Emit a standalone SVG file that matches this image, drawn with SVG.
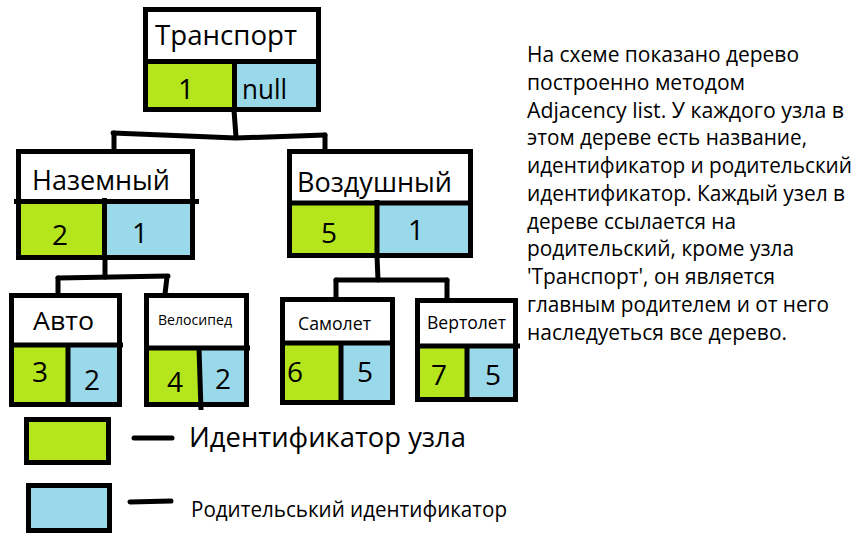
<svg xmlns="http://www.w3.org/2000/svg" width="864" height="543" viewBox="0 0 864 543">
<style>
.bg{fill:#fff}
.w{fill:#fff}
.g{fill:#b5e61d}
.b{fill:#99d9ea}
.k{fill:none;stroke:#000;stroke-width:5;stroke-linejoin:miter}
.c{fill:none;stroke:#000;stroke-width:5;stroke-linecap:round;stroke-linejoin:round}
text{font-family:"Open Sans","Noto Sans","DejaVu Sans",sans-serif;fill:#000}
.n28{font-size:28px}
.p{font-size:22px}
</style>
<rect class="bg" x="0" y="0" width="864" height="543"/>

<g id="connectors">
  <path class="c" d="M234 110 L236 137"/>
  <path class="c" d="M113 133 L236 138 L325 135"/>
  <path class="c" d="M114 133 L114 149"/>
  <path class="c" d="M325 135 L325 151"/>
  <path class="c" d="M105 258 L105 277"/>
  <path class="c" d="M58 278 L168 276"/>
  <path class="c" d="M58 278 L58 294"/>
  <path class="c" d="M167 277 L165 294"/>
  <path class="c" d="M377 256 L378 280"/>
  <path class="c" d="M336 280 L447 280"/>
  <path class="c" d="M336 280 L336 298"/>
  <path class="c" d="M447 280 L447 299"/>
</g>

<g id="node-transport">
  <rect class="w" x="145.5" y="9.5" width="173" height="52"/>
  <rect class="g" x="145.5" y="61.5" width="89" height="48"/>
  <rect class="b" x="234.5" y="61.5" width="84" height="48"/>
  <rect class="k" x="145.5" y="9.5" width="173" height="100"/>
  <path class="k" d="M143 61.5 H321 M234.5 61.5 V110"/>
  <text class="n28" x="155" y="45" textLength="142" lengthAdjust="spacingAndGlyphs">Транспорт</text>
  <text class="n28" x="178" y="99">1</text>
  <text class="n28" x="242" y="99" textLength="45" lengthAdjust="spacingAndGlyphs">null</text>
</g>

<g id="node-nazemny">
  <rect class="w" x="18.5" y="151.5" width="174" height="50"/>
  <rect class="g" x="18.5" y="201.5" width="86" height="56"/>
  <rect class="b" x="104.5" y="201.5" width="88" height="56"/>
  <rect class="k" x="18.5" y="151.5" width="174" height="106"/>
  <path class="k" d="M14 201.5 H199 M104.5 198 V258"/>
  <text class="n28" x="32" y="190" textLength="138" lengthAdjust="spacingAndGlyphs">Наземный</text>
  <text class="n28" x="52" y="245">2</text>
  <text class="n28" x="132" y="243">1</text>
</g>

<g id="node-vozdushny">
  <rect class="w" x="289.5" y="151.5" width="181" height="51.5"/>
  <rect class="g" x="289.5" y="203" width="87.5" height="52.5"/>
  <rect class="b" x="377" y="203" width="93.5" height="52.5"/>
  <rect class="k" x="289.5" y="151.5" width="181" height="104"/>
  <path class="k" d="M287 203 H473 M377 200 V258"/>
  <text class="n28" x="297" y="192" textLength="155" lengthAdjust="spacingAndGlyphs">Воздушный</text>
  <text class="n28" x="321" y="243">5</text>
  <text class="n28" x="408" y="240">1</text>
</g>

<g id="node-avto">
  <rect class="w" x="11.5" y="295.5" width="108" height="49.5"/>
  <rect class="g" x="11.5" y="345" width="56.5" height="59.5"/>
  <rect class="b" x="68" y="345" width="51.5" height="59.5"/>
  <rect class="k" x="11.5" y="295.5" width="108" height="109"/>
  <path class="k" d="M11.5 345 H123 M68 345 V405"/>
  <text x="33" y="330" style="font-size:26px" textLength="61" lengthAdjust="spacingAndGlyphs">Авто</text>
  <text class="n28" x="32" y="382">3</text>
  <text class="n28" x="84" y="390">2</text>
</g>

<g id="node-velosiped">
  <rect class="w" x="146.5" y="295.5" width="100" height="52.5"/>
  <rect class="g" x="146.5" y="348" width="53.5" height="56.5"/>
  <rect class="b" x="200" y="348" width="46.5" height="56.5"/>
  <rect class="k" x="146.5" y="295.5" width="100" height="109"/>
  <path class="k" d="M146.5 348 H250 M199 348 L201 410"/>
  <text x="158" y="325" style="font-size:15px" textLength="74" lengthAdjust="spacingAndGlyphs">Велосипед</text>
  <text class="n28" x="167" y="392">4</text>
  <text class="n28" x="215" y="389">2</text>
</g>

<g id="node-samolet">
  <rect class="w" x="282.5" y="299.5" width="110" height="43.5"/>
  <rect class="g" x="282.5" y="343" width="58.5" height="59.5"/>
  <rect class="b" x="341" y="343" width="51.5" height="59.5"/>
  <rect class="k" x="282.5" y="299.5" width="110" height="103"/>
  <path class="k" d="M282.5 343 H392.5 M341 343 V402.5"/>
  <text x="298" y="330" style="font-size:19px" textLength="73" lengthAdjust="spacingAndGlyphs">Самолет</text>
  <text class="n28" x="287" y="382">6</text>
  <text class="n28" x="357" y="382">5</text>
</g>

<g id="node-vertolet">
  <rect class="w" x="417.5" y="300.5" width="98" height="45.5"/>
  <rect class="g" x="417.5" y="346" width="49.5" height="53.5"/>
  <rect class="b" x="467" y="346" width="48.5" height="53.5"/>
  <rect class="k" x="417.5" y="300.5" width="98" height="99"/>
  <path class="k" d="M417.5 346 H520 M467 346 V399.5"/>
  <text x="427" y="329" style="font-size:19px" textLength="79" lengthAdjust="spacingAndGlyphs">Вертолет</text>
  <text class="n28" x="431" y="385">7</text>
  <text class="n28" x="485" y="385">5</text>
</g>

<g id="legend">
  <rect class="g" x="26.5" y="419.5" width="82" height="43"/>
  <rect class="k" x="26.5" y="419.5" width="82" height="43"/>
  <rect class="b" x="28.5" y="485.5" width="81" height="45"/>
  <rect class="k" x="28.5" y="485.5" width="81" height="45"/>
  <path class="c" d="M134 438 L172 438"/>
  <path class="c" d="M130 502 L171 501"/>
  <text class="n28" x="189" y="447" textLength="277" lengthAdjust="spacingAndGlyphs">Идентификатор узла</text>
  <text x="191" y="517" style="font-size:21px" textLength="316" lengthAdjust="spacingAndGlyphs">Родительський идентификатор</text>
</g>

<g id="description" class="p">
  <text x="527" y="62" textLength="272" lengthAdjust="spacingAndGlyphs">На схеме показано дерево</text>
  <text x="527" y="90" textLength="218" lengthAdjust="spacingAndGlyphs">построенно методом</text>
  <text x="527" y="117.5" textLength="317" lengthAdjust="spacingAndGlyphs">Adjacency list. У каждого узла в</text>
  <text x="527" y="145" textLength="280" lengthAdjust="spacingAndGlyphs">этом дереве есть название,</text>
  <text x="527" y="173" textLength="325" lengthAdjust="spacingAndGlyphs">идентификатор и родительский</text>
  <text x="527" y="201" textLength="318" lengthAdjust="spacingAndGlyphs">идентификатор. Каждый узел в</text>
  <text x="527" y="228.5" textLength="209" lengthAdjust="spacingAndGlyphs">дереве ссылается на</text>
  <text x="527" y="256" textLength="267" lengthAdjust="spacingAndGlyphs">родительский, кроме узла</text>
  <text x="527" y="284" textLength="248" lengthAdjust="spacingAndGlyphs">'Транспорт', он является</text>
  <text x="527" y="312" textLength="302" lengthAdjust="spacingAndGlyphs">главным родителем и от него</text>
  <text x="527" y="340" textLength="260" lengthAdjust="spacingAndGlyphs">наследуеться все дерево.</text>
</g>
</svg>
